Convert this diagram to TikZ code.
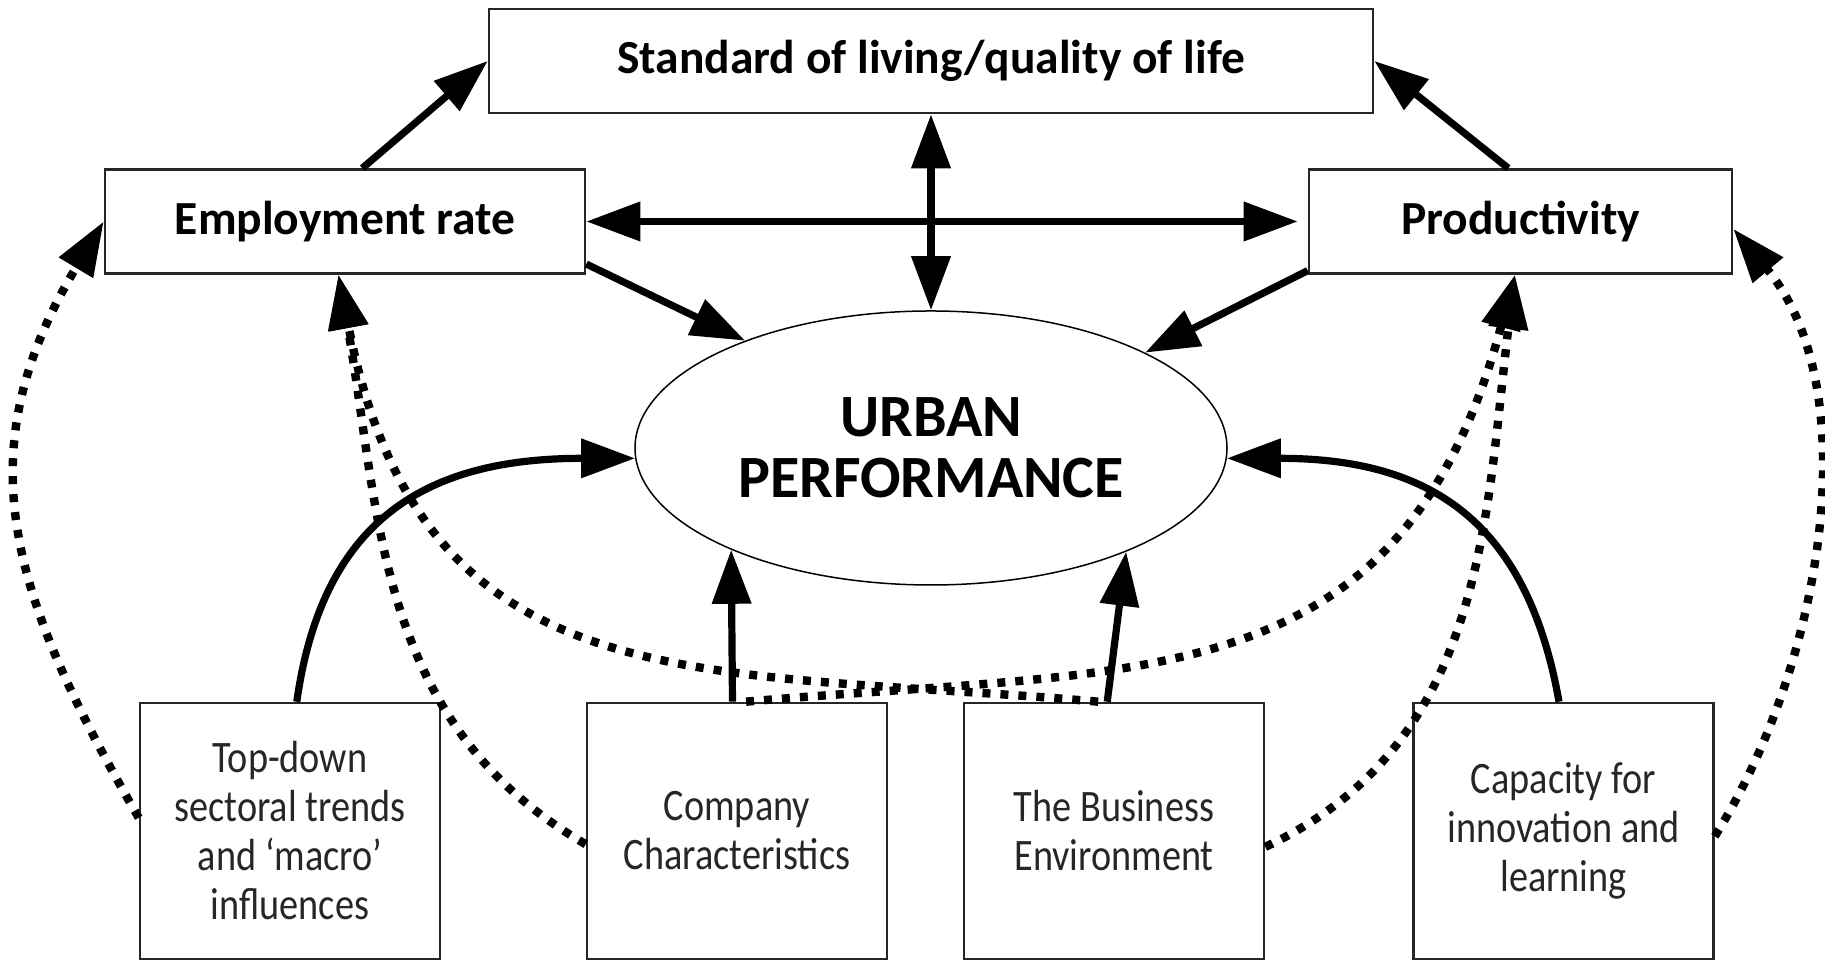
\documentclass[tikz,border=0pt]{standalone}
\usepackage{fontspec}
\setmainfont{Carlito}
\newfontfamily\narrowfont[FakeStretch=0.85]{Carlito}
\usetikzlibrary{arrows.meta,shapes.geometric}

\begin{document}
\begin{tikzpicture}[
    x=0.5pt, y=0.5pt,
    every node/.style={align=center},
    >={Triangle[length=27pt,width=19pt]},
    topbox/.style={draw=black!85, line width=1.3pt, minimum height=52pt, font=\fontsize{23.75}{26}\selectfont\bfseries}, % upper boxes
    input/.style={draw=black!85, line width=1.3pt, minimum width=150pt, minimum height=128pt, text=black!85, font=\narrowfont\fontsize{22.5}{24.5}\selectfont}, % lower boxes
    core/.style={ellipse, draw, line width=0.75pt, minimum width=296pt, minimum height=137pt, font=\fontsize{30}{30.5}\selectfont\bfseries},
    link/.style={line width=3.6pt, ->}, % solid arrows
    dotlink/.style={line width=4.2pt, dash pattern=on 4pt off 5pt, ->} % dotted arrows
]
\useasboundingbox (0,0) rectangle (1825,961);

\node[topbox, minimum width=442pt] (std) at (931,900) {Standard of living/quality of life};
\node[topbox, minimum width=240pt] (emp) at (345,739.5) {Employment rate};
\node[topbox, minimum width=211.5pt] (prod) at (1520.5,739.5) {Productivity};
\node[core] (urban) at (931,513) {URBAN\\PERFORMANCE};

\node[input] (trends) at (290,130) {Top-down\\sectoral trends\\and ‘macro’\\influences};
\node[input] (company) at (737,130) {Company\\Characteristics};
\node[input] (business) at (1114,130) {The Business\\Environment};
\node[input] (capacity) at (1563.5,130) {Capacity for\\innovation and\\learning};

% solid links
\draw[link] (emp.72) -- (std.west);
\draw[link] (prod.103) -- (std.east);
\draw[link, <->, shorten >=5pt] (emp.east) -- (prod.west);
\draw[link, <->] (std.south) -- (urban.north);
\draw[link] (emp.-10) -- (urban.150);
\draw[link] (prod.193) -- (urban.24);
\draw[link] (trends.87) to[out=82, in=180, looseness=1.2] (urban.182);
\draw[link] (company.92) -- (urban.207);
\draw[link] (business.93) -- (urban.332);
\draw[link] (capacity.92) to[out=100, in=0, looseness=1.2] (urban.358);

% dotted links
\draw[dotlink] (trends.175) to[out=120, in=239, looseness=1.14] (emp.west);
\draw[dotlink] (company.185) to[out=150, in=280] (emp.263);
\draw[dotlink] (business.97) to[out=175, in=281, out distance=200pt, in distance=221pt] (emp.263);
\draw[dotlink] (company.86) to[out=5, in=255, out distance=200pt, in distance=221pt] (prod.264);
\draw[dotlink] (business.354) to[out=25, in=263] (prod.264);
\draw[dotlink] (capacity.358) to[out=58, in=310, looseness=0.87] (prod.358);
\end{tikzpicture}
\end{document}
